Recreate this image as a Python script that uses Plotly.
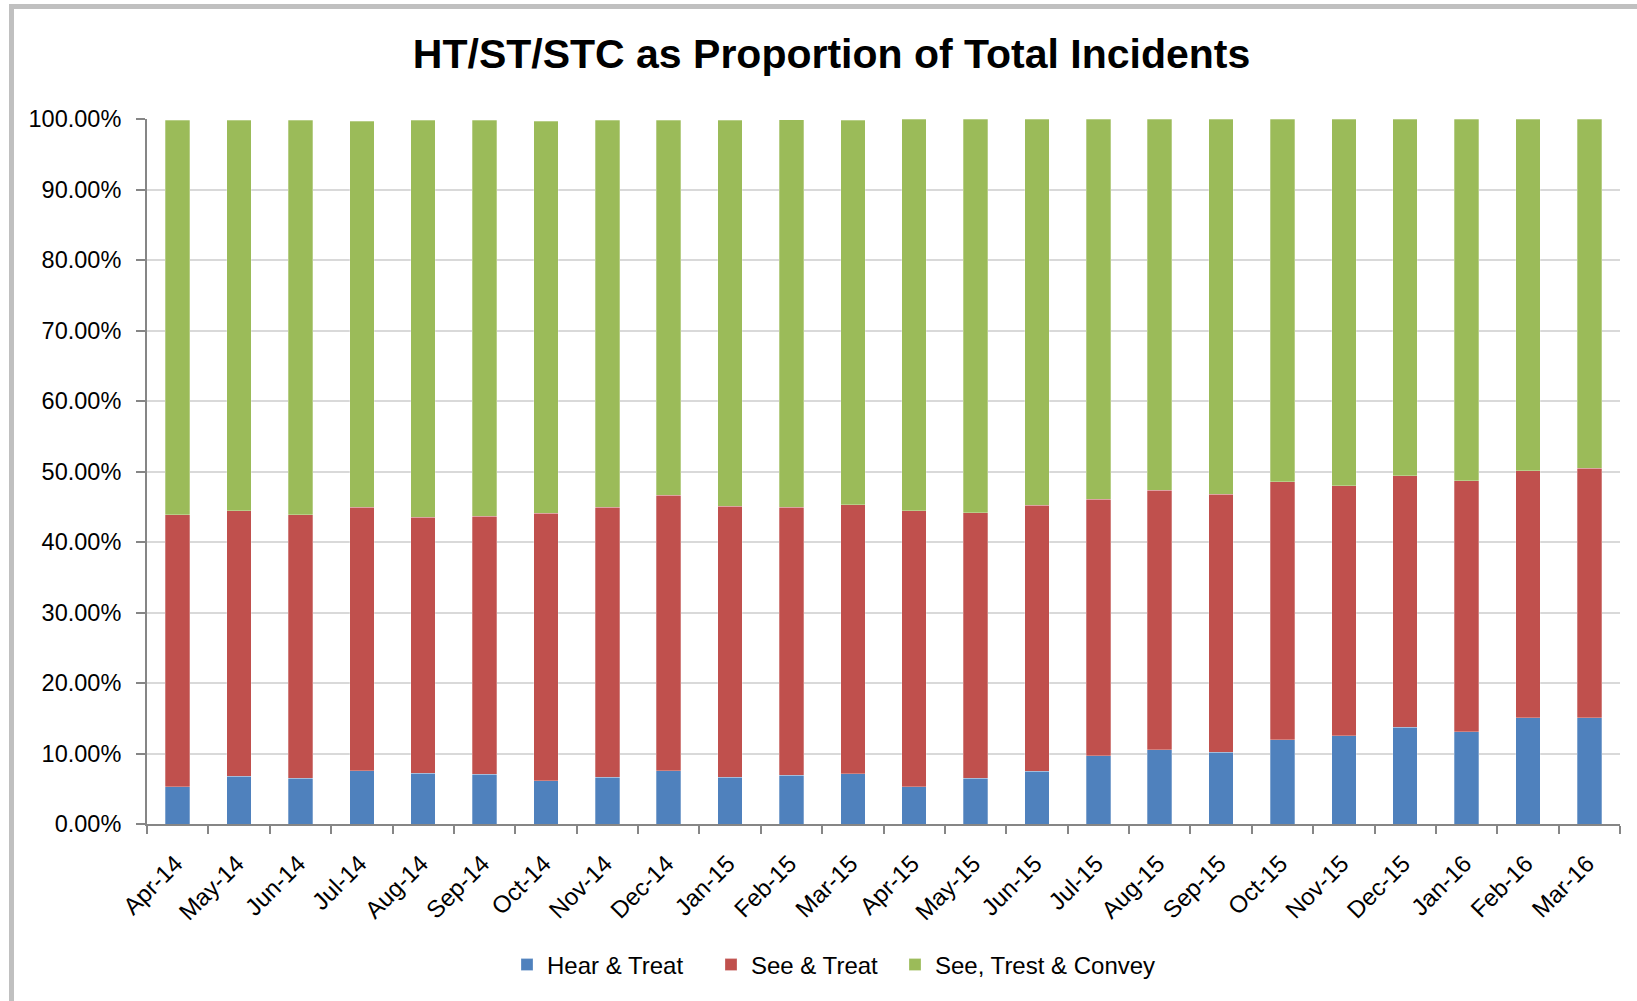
import plotly.graph_objects as go

months = ["Apr-14", "May-14", "Jun-14", "Jul-14", "Aug-14", "Sep-14", "Oct-14", "Nov-14",
          "Dec-14", "Jan-15", "Feb-15", "Mar-15", "Apr-15", "May-15", "Jun-15", "Jul-15",
          "Aug-15", "Sep-15", "Oct-15", "Nov-15", "Dec-15", "Jan-16", "Feb-16", "Mar-16"]

# shares of total incidents, in percent
hear_treat = [5.29, 6.76, 6.47, 7.56, 7.23, 7.04, 6.14, 6.66, 7.56, 6.66, 6.95, 7.14,
              5.29, 6.47, 7.51, 9.70, 10.50, 10.15, 11.95, 12.55, 13.70, 13.10, 15.05, 15.05]
see_treat = [38.57, 37.66, 37.39, 37.34, 36.25, 36.58, 37.91, 38.28, 39.04, 38.38, 37.99, 38.13,
             39.13, 37.67, 37.67, 36.33, 36.81, 36.59, 36.63, 35.46, 35.73, 35.62, 35.09, 35.42]
see_treat_convey = [55.94, 55.38, 55.94, 54.80, 56.32, 56.18, 55.65, 54.86, 53.20, 54.76, 54.96, 54.53,
                    55.58, 55.86, 54.82, 53.97, 52.69, 53.26, 51.42, 51.99, 50.57, 51.28, 49.86, 49.53]

series = [
    ("Hear & Treat", hear_treat, "#4F81BD"),
    ("See & Treat", see_treat, "#C0504D"),
    ("See, Trest & Convey", see_treat_convey, "#9BBB59"),
]

font = "Liberation Sans, Arial, sans-serif"

# plot area in pixels: x 147..1620, y 119..824
L, R, T, B = 147, 17, 119, 177
pw, ph = 1637 - L - R, 1001 - T - B

def px_x(x):
    return (x - L) / pw

def px_y(y):
    return (1001 - B - y) / ph

legend_names = ["legend", "legend2", "legend3"]
legend_left = [524, 728, 912]  # where each legend square starts

fig = go.Figure()
for (name, vals, colour), lg in zip(series, legend_names):
    fig.add_trace(go.Bar(
        name=name,
        x=months,
        y=vals,
        legend=lg,
        showlegend=True,
        marker=dict(color=colour, line=dict(color="rgba(255,255,255,0.35)", width=0.8)),
    ))

legends = {}
for lg, left in zip(legend_names, legend_left):
    legends[lg] = dict(
        orientation="h",
        xanchor="left", x=px_x(left - 17),
        yanchor="middle", y=px_y(965),
        font=dict(family=font, size=24, color="black"),
        bgcolor="rgba(0,0,0,0)",
        visible=True,
    )

fig.update_layout(
    width=1637,
    height=1001,
    margin=dict(l=L, r=R, t=T, b=B),
    showlegend=True,
    barmode="stack",
    bargap=0.6,
    plot_bgcolor="white",
    paper_bgcolor="white",
    title=dict(
        text="<b>HT/ST/STC as Proportion of Total Incidents</b>",
        font=dict(family=font, size=41, color="black"),
        xref="container", x=0.508, xanchor="center",
        yref="container", y=1 - 54 / 1001, yanchor="middle",
    ),
    xaxis=dict(
        type="category",
        tickangle=-45,
        tickfont=dict(family=font, size=24, color="black"),
        showline=True, linecolor="#868686", linewidth=2,
        ticks="outside", tickson="boundaries", ticklen=8, tickcolor="#868686", tickwidth=2,
        ticklabelstandoff=14, ticklabelshift=-2,
        showgrid=False,
    ),
    yaxis=dict(
        range=[0, 100],
        dtick=10,
        tickformat=".2f",
        ticksuffix="%",
        tickfont=dict(family=font, size=23.5, color="black"),
        showline=True, linecolor="#868686", linewidth=2,
        ticks="outside", ticklen=9, tickcolor="#868686", tickwidth=2,
        ticklabelstandoff=10,
        showgrid=True, gridcolor="#D9D9D9", gridwidth=1.5,
        zeroline=False,
    ),
    shapes=[dict(
        type="rect", xref="paper", yref="paper",
        x0=px_x(11.5), x1=1.3, y0=-0.4, y1=px_y(6.5),
        line=dict(color="#C0C0C0", width=5),
        fillcolor="rgba(0,0,0,0)",
        layer="below",
    )],
    **legends,
)

# drop the default 8px page margin so the figure sits at the window origin
fig.write_html("out.html", config={"displayModeBar": False},
               post_script="document.body.style.margin='0';")
